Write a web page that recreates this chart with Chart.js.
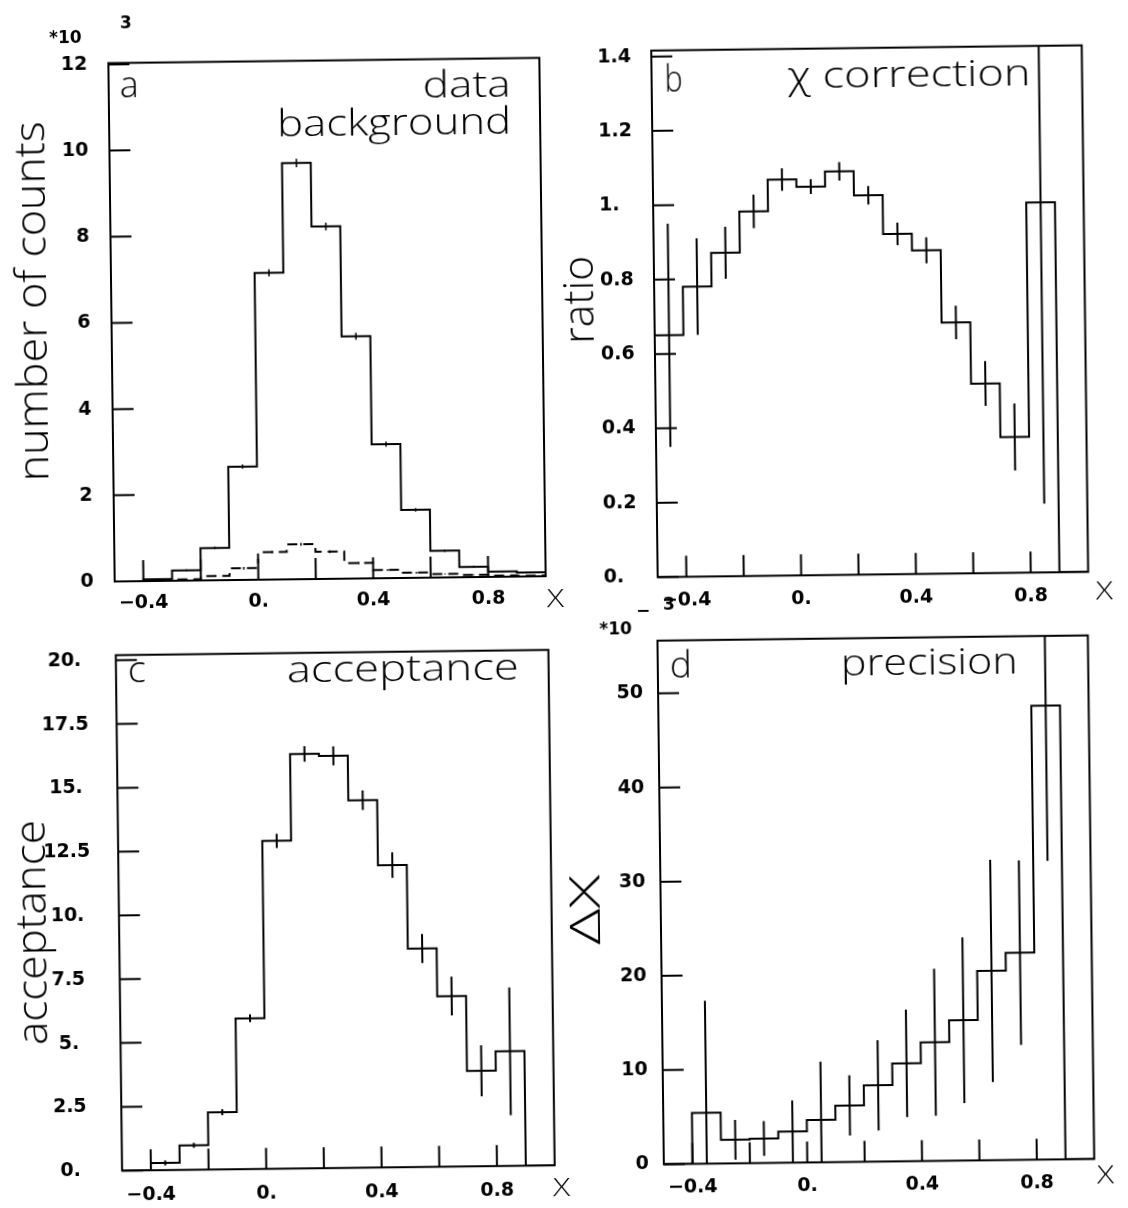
<!DOCTYPE html>
<html>
<head>
<meta charset="utf-8">
<script src="https://cdn.jsdelivr.net/npm/chart.js@4.4.1/dist/chart.umd.min.js"></script>
<style>
  html, body { margin: 0; padding: 0; background: #fff; overflow: hidden; }
  /* the scanned page is turned a little counter-clockwise */
  #page { position: relative; width: 1128px; height: 1208px; background: #fff;
          transform: rotate(-0.7deg); transform-origin: 564px 604px; }
  #page canvas { position: absolute; left: 0; top: 0; }
</style>
</head>
<body>
<div id="page">
  <canvas id="panelA" width="1128" height="1208"></canvas>
  <canvas id="panelB" width="1128" height="1208"></canvas>
  <canvas id="panelC" width="1128" height="1208"></canvas>
  <canvas id="panelD" width="1128" height="1208"></canvas>
</div>
<script>
/*****************************************************************
 *                         DATA
 *****************************************************************/

// lower edges of the 0.1 wide X bins
const binLow = [-0.5, -0.4, -0.3, -0.2, -0.1, 0.0, 0.1, 0.2, 0.3, 0.4, 0.5, 0.6, 0.7, 0.8, 0.9];
const BIN_WIDTH = 0.1;
const X_MIN = -0.5;
const X_MAX = 1.0;
const xTicks = [-0.4, -0.2, 0, 0.2, 0.4, 0.6, 0.8];
const xTickLabels = ["\u22120.4", "", "0.", "", "0.4", "", "0.8"];

// a : number of counts (*10^3)
const countsData = [0, 0.04, 0.24, 0.75, 2.63, 7.12, 9.66, 8.18, 5.62, 3.11, 1.58, 0.62, 0.24, 0.12, 0.09];
const countsDataErr = [0, 0.01, 0.02, 0.03, 0.05, 0.08, 0.1, 0.09, 0.08, 0.06, 0.04, 0.03, 0.02, 0.01, 0.01];
const countsBkg = [0, 0.01, 0.03, 0.1, 0.27, 0.64, 0.81, 0.63, 0.36, 0.19, 0.12, 0.08, 0.05, 0.03, 0.02];
const countsBkgErr = [0, 0, 0.01, 0.02, 0.03, 0.03, 0.03, 0.03, 0.03, 0.02, 0.02, 0.01, 0.01, 0, 0];
const yTicksA = [0, 2, 4, 6, 8, 10, 12];
const yLabelsA = ["0", "2", "4", "6", "8", "10", "12"];

// b : chi correction ratio
const ratio = [0.65, 0.78, 0.87, 0.98, 1.065, 1.045, 1.085, 1.02, 0.915, 0.87, 0.675, 0.51, 0.365, 0.995, 0];
const ratioErr = [0.3, 0.13, 0.07, 0.045, 0.03, 0.02, 0.025, 0.025, 0.03, 0.035, 0.045, 0.06, 0.09, 0.81, 0];
const yTicksB = [0, 0.2, 0.4, 0.6, 0.8, 1.0, 1.2, 1.4];
const yLabelsB = ["0.", "0.2", "0.4", "0.6", "0.8", "1.", "1.2", "1.4"];

// c : acceptance
const accept = [0, 0.28, 0.96, 2.24, 5.91, 12.85, 16.24, 16.15, 14.4, 11.84, 8.56, 6.68, 3.74, 4.49, 0];
const acceptErr = [0, 0.1, 0.1, 0.12, 0.15, 0.28, 0.3, 0.37, 0.38, 0.5, 0.57, 0.76, 1.0, 2.5, 0];
const yTicksC = [0, 2.5, 5, 7.5, 10, 12.5, 15, 17.5, 20];
const yLabelsC = ["0.", "2.5", "5.", "7.5", "10.", "12.5", "15.", "17.5", "20."];

// d : precision Delta X (*10^-3)
const precision = [0, 5.4, 2.5, 2.6, 3.3, 4.5, 6.0, 8.1, 10.4, 12.6, 14.9, 20.1, 22.0, 48.2, 0];
const precisionErr = [0, 11.9, 2.1, 1.85, 3.3, 6.2, 3.2, 4.8, 5.7, 7.8, 8.8, 11.8, 9.8, 16.5, 0];
const yTicksD = [0, 10, 20, 30, 40, 50];
const yLabelsD = ["0", "10", "20", "30", "40", "50"];

/*****************************************************************
 *                         HELPERS
 *****************************************************************/

const PAGE_W = 1128;
const PAGE_H = 1208;
const X_AXIS_H = 40;
const TEXT_FONT = '"Open Sans", "DejaVu Sans", sans-serif';
const TICK_FONT = { family: '"DejaVu Sans", sans-serif', size: 19, weight: 'bold' };
const EXP_FONT = 'bold 17px "DejaVu Sans", sans-serif';

function stepPoints(values) {
  const pts = binLow.map((x, i) => ({ x: x, y: values[i] }));
  pts.push({ x: X_MAX, y: values[values.length - 1] });
  return pts;
}

function errorPoints(values, errs) {
  const pts = [];
  binLow.forEach((x, i) => {
    if (!errs[i]) return;
    const c = x + BIN_WIDTH / 2;
    pts.push({ x: c, y: values[i] - errs[i] }, { x: c, y: values[i] + errs[i] }, { x: c, y: null });
  });
  return pts;
}

function histDataset(values, dash) {
  return {
    data: stepPoints(values),
    stepped: true,
    borderColor: '#000',
    borderWidth: 2,
    borderDash: dash || [],
    pointRadius: 0,
    fill: false,
  };
}

function errDataset(values, errs, width) {
  return {
    data: errorPoints(values, errs),
    borderColor: '#000',
    borderWidth: width || 2,
    pointRadius: 0,
    spanGaps: false,
    fill: false,
  };
}

function fitText(ctx, str, x, y, size, width, align, rotated) {
  ctx.save();
  ctx.font = '300 ' + size + 'px ' + TEXT_FONT;
  ctx.fillStyle = '#000';
  ctx.textBaseline = 'alphabetic';
  const w = ctx.measureText(str).width;
  const sx = width ? width / w : 1;
  ctx.translate(x, y);
  if (rotated) ctx.rotate(-Math.PI / 2);
  ctx.scale(sx, 1);
  ctx.textAlign = align;
  ctx.fillText(str, 0, 0);
  ctx.restore();
}

function plainText(ctx, str, x, y, font) {
  ctx.save();
  ctx.font = font;
  ctx.fillStyle = '#000';
  ctx.textAlign = 'left';
  ctx.textBaseline = 'alphabetic';
  ctx.fillText(str, x, y);
  ctx.restore();
}

// frame + inward ticks + texts of one panel
function decorPlugin(texts) {
  return {
    id: 'decor',
    afterDatasetsDraw(chart) {
      const ctx = chart.ctx;
      const a = chart.chartArea;
      const xs = chart.scales.x;
      const ys = chart.scales.y;
      ctx.save();
      ctx.strokeStyle = '#000';
      ctx.lineWidth = 2;
      ctx.strokeRect(a.left, a.top, a.right - a.left, a.bottom - a.top);
      ctx.beginPath();
      xs.ticks.forEach((t) => {
        const px = xs.getPixelForValue(t.value);
        ctx.moveTo(px, a.bottom);
        ctx.lineTo(px, a.bottom - 21);
      });
      ys.ticks.forEach((t) => {
        const py = ys.getPixelForValue(t.value);
        ctx.moveTo(a.left, py);
        ctx.lineTo(a.left + 21, py);
      });
      ctx.stroke();
      ctx.restore();
    },
    afterDraw(chart) {
      texts(chart.ctx);
    },
  };
}

// p: frame, y range, tick lists, label placement, datasets and texts of one panel
function makePanel(canvasId, p) {
  const f = p.frame;
  const config = {
    type: 'line',
    data: { datasets: p.datasets },
    options: {
      responsive: false,
      animation: false,
      devicePixelRatio: 1,
      layout: {
        padding: {
          left: f.l - p.yAxisW,
          right: PAGE_W - f.r,
          top: f.t,
          bottom: PAGE_H - f.b - X_AXIS_H,
        },
      },
      plugins: { legend: { display: false }, tooltip: { enabled: false } },
      scales: {
        x: {
          type: 'linear',
          min: X_MIN,
          max: X_MAX,
          afterBuildTicks: (s) => { s.ticks = xTicks.map((v) => ({ value: v })); },
          afterFit: (s) => { s.height = X_AXIS_H; },
          grid: { display: false, drawTicks: false },
          border: { display: false },
          ticks: {
            autoSkip: false,
            maxRotation: 0,
            padding: p.xPad,
            color: '#000',
            font: TICK_FONT,
            callback: (v, i) => xTickLabels[i],
          },
        },
        y: {
          type: 'linear',
          min: 0,
          max: p.yMax,
          afterBuildTicks: (s) => { s.ticks = p.yTicks.map((v) => ({ value: v })); },
          afterFit: (s) => { s.width = p.yAxisW; },
          grid: { display: false, drawTicks: false },
          border: { display: false },
          ticks: {
            autoSkip: false,
            padding: p.yPad,
            crossAlign: p.yAlign,
            color: '#000',
            font: TICK_FONT,
            callback: (v, i) => p.yLabels[i],
          },
        },
      },
    },
    plugins: [decorPlugin(p.texts)],
  };
  return new Chart(document.getElementById(canvasId), config);
}

/*****************************************************************
 *                         PANELS
 *****************************************************************/

makePanel('panelA', {
  frame: { l: 115, r: 546, t: 57.6, b: 576 },
  yMax: 12.03, yTicks: yTicksA, yLabels: yLabelsA,
  yAxisW: 60, yPad: 21, yAlign: 'near', xPad: 11,
  datasets: [
    histDataset(countsData),
    errDataset(countsData, countsDataErr, 1.5),
    histDataset(countsBkg, [10, 6]),
    errDataset(countsBkg, countsBkgErr, 1.5),
  ],
  texts: (ctx) => {
    plainText(ctx, '*10', 56, 37, EXP_FONT);
    plainText(ctx, '3', 127, 23, EXP_FONT);
    fitText(ctx, 'a', 126, 92, 36, 19, 'left');
    fitText(ctx, 'data', 517, 96, 36, 88, 'right');
    fitText(ctx, 'background', 517, 133, 36, 234, 'right');
    fitText(ctx, 'number of counts', 50, 295, 42, 360, 'center', true);
    fitText(ctx, 'X', 547, 607, 26, 17, 'left');
  },
});

makePanel('panelB', {
  frame: { l: 658, r: 1088.5, t: 51.7, b: 578.3 },
  yMax: 1.416, yTicks: yTicksB, yLabels: yLabelsB,
  yAxisW: 54, yPad: 20, yAlign: 'far', xPad: 12,
  datasets: [
    histDataset(ratio),
    errDataset(ratio, ratioErr, 2),
  ],
  texts: (ctx) => {
    fitText(ctx, 'b', 671, 93, 36, 18, 'left');
    fitText(ctx, '\u03c7 correction', 794, 91, 36, 243, 'left');
    fitText(ctx, 'ratio', 597, 300, 42, 88, 'center', true);
    fitText(ctx, 'X', 1096, 606, 26, 17, 'left');
  },
});

makePanel('panelC', {
  frame: { l: 115.2, r: 547.8, t: 649.7, b: 1165.2 },
  yMax: 20.2, yTicks: yTicksC, yLabels: yLabelsC,
  yAxisW: 90, yPad: 28, yAlign: 'center', xPad: 13,
  datasets: [
    histDataset(accept),
    errDataset(accept, acceptErr, 2),
  ],
  texts: (ctx) => {
    fitText(ctx, 'c', 127, 677, 36, 18, 'left');
    fitText(ctx, 'acceptance', 286, 679, 36, 232, 'left');
    fitText(ctx, 'acceptance', 42, 926, 42, 225, 'center', true);
    fitText(ctx, 'X', 546, 1196, 26, 17, 'left');
  },
});

makePanel('panelD', {
  frame: { l: 657, r: 1087.4, t: 641.8, b: 1165.4 },
  yMax: 55.6, yTicks: yTicksD, yLabels: yLabelsD,
  yAxisW: 60, yPad: 15, yAlign: 'near', xPad: 12,
  datasets: [
    histDataset(precision),
    errDataset(precision, precisionErr, 2),
  ],
  texts: (ctx) => {
    plainText(ctx, '*10', 599, 635, EXP_FONT);
    plainText(ctx, '\u2212', 636, 617, EXP_FONT);
    plainText(ctx, '3', 663, 611, EXP_FONT);
    fitText(ctx, 'd', 669, 679, 36, 22, 'left');
    fitText(ctx, 'precision', 840, 679, 36, 177, 'left');
    fitText(ctx, '\u0394X', 596, 910, 42, 70, 'center', true);
    fitText(ctx, 'X', 1090, 1190, 26, 17, 'left');
  },
});
</script>
</body>
</html>
